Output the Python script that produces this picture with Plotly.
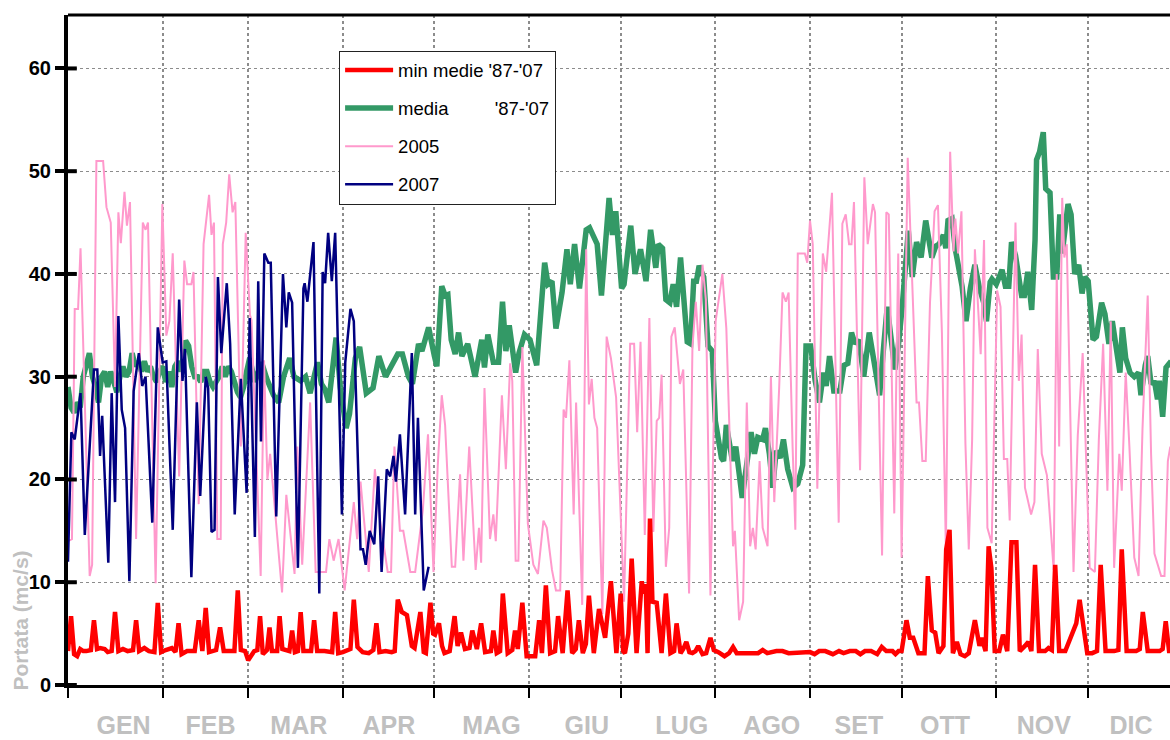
import plotly.graph_objects as go

# ---------------- data (day of year, value in mc/s) ----------------
month_names = ["GEN", "FEB", "MAR", "APR", "MAG", "GIU", "LUG", "AGO", "SET", "OTT", "NOV", "DIC"]
month_starts = [0, 31, 59, 90, 120, 151, 181, 212, 243, 273, 304, 334]
month_label_days = [18.2, 46.7, 75.6, 105.1, 138.7, 169.9, 201.0, 230.5, 259.0, 287.2, 319.6, 348.1]
y_ticks = [0, 10, 20, 30, 40, 50, 60]

min_days = [0, 1, 2, 3, 4, 5, 6, 7.5, 8.5, 9.5, 10.5, 12, 13, 14.3, 15.4, 16.5, 18, 19.5, 21.3, 22.3, 23.3, 25, 26.5,
            28.3, 29.4, 30.5, 32, 34, 35.2, 36.2, 37.2, 39, 41.5, 42.8, 44, 45.1, 46.2, 48.5, 49.8, 51, 54.5, 55.6,
            56.6, 58, 59, 60, 61, 62, 62.9, 63.8, 65.2, 66, 66.8, 68.5, 69.3, 70.2, 72.5, 73.4, 74.3, 75.3, 76.2,
            77.1, 79.6, 80.6, 81.6, 84, 86.5, 87.5, 88.5, 90, 92.5, 93.6, 94.8, 96.5, 98.5, 100, 101, 102, 104, 106,
            107, 108, 109.3, 111, 112.6, 113.5, 115.4, 116.5, 117.2, 118.7, 119.6, 120.2, 121.5, 122.5, 123.3, 125,
            126.6, 127.6, 128.7, 130, 131.5, 132.4, 133.9, 135.3, 136.6, 138.5, 139.3, 140.4, 141.5, 142.4, 144,
            145.5, 146.4, 147.3, 148.8, 150.2, 153, 154.3, 155.2, 156.5, 157.9, 159.5, 160.5, 162, 163.6, 165.1,
            166.3, 167.3, 168.6, 169.6, 170.6, 172.2, 173.9, 175.9, 177.8, 179.6, 181, 181.8, 182.4, 183.5, 184.6,
            186.2, 187.9, 188.5, 189.2, 189.8, 190.6, 191.4, 192.8, 194.4, 195.8, 197.3, 198.5, 199.3, 200.6, 201.5,
            202.5, 203.5, 204.5, 205.5, 206.4, 207.8, 209, 210.4, 211.5, 213, 215, 216.5, 217.8, 219, 221, 226,
            227.5, 229, 232, 234, 236, 238, 240, 243, 244.5, 246, 248, 250.5, 252.5, 254, 256, 258, 259.5, 261, 263,
            265, 266.5, 268, 270, 271, 272, 273, 274.6, 275.7, 276.8, 278.5, 280.5, 281.6, 282.9, 284, 285.1, 286.7,
            287.6, 288.7, 289.8, 291.1, 292.3, 293.7, 295, 297, 298.5, 299.2, 300.5, 301.5, 302.4, 303.5, 305, 306.2,
            307.6, 309, 310.6, 311.7, 313.4, 314.5, 315.5, 316.7, 318, 320, 321.1, 322.2, 323.3, 324.6, 326.6, 329,
            330.2, 331.3, 332.6, 333.8, 335.4, 337, 338.2, 339.8, 342.6, 344, 345.1, 346.7, 349.8, 351, 352, 353.6,
            357.5, 358.5, 359.5, 360.6, 362]
min_vals = [3.3, 6.7, 3.0, 2.8, 3.5, 3.3, 3.3, 3.4, 6.3, 3.5, 3.6, 3.5, 3.2, 3.3, 7.1, 3.3, 3.5, 3.3, 3.4, 6.3, 3.3, 3.6,
            3.3, 3.2, 8.0, 3.2, 3.4, 3.6, 3.2, 6.0, 3.0, 3.3, 3.3, 6.3, 3.3, 7.5, 3.2, 3.4, 5.6, 3.3, 3.3, 9.2, 3.4,
            3.3, 2.4, 2.8, 3.3, 3.4, 6.7, 3.0, 3.4, 5.6, 3.3, 3.3, 6.7, 3.5, 3.3, 5.3, 3.2, 3.3, 7.1, 3.3, 3.3, 6.3,
            3.3, 3.3, 3.2, 7.1, 3.1, 3.2, 3.5, 8.3, 3.7, 3.2, 3.1, 3.4, 6.0, 3.2, 3.3, 3.2, 3.3, 8.3, 7.1, 6.8, 3.8,
            3.6, 7.1, 3.2, 3.1, 8.0, 5.0, 4.9, 6.0, 3.8, 3.1, 3.3, 6.7, 3.8, 5.1, 3.5, 3.6, 5.3, 3.5, 6.0, 3.2, 3.3,
            5.3, 3.1, 3.3, 8.9, 3.1, 3.4, 5.3, 3.5, 8.0, 2.8, 2.8, 6.3, 3.1, 9.7, 3.1, 3.3, 6.7, 3.1, 9.2, 3.1, 3.5,
            6.3, 3.1, 4.0, 8.7, 3.1, 7.4, 4.6, 10.1, 3.1, 8.9, 3.3, 3.1, 5.0, 12.3, 3.1, 10.1, 8.9, 9.8, 3.1, 16.2,
            8.1, 8.0, 3.1, 8.9, 3.1, 3.3, 6.0, 3.1, 3.5, 4.2, 3.2, 3.1, 3.3, 3.8, 3.0, 3.1, 4.6, 3.4, 3.2, 2.8, 3.1,
            3.7, 3.1, 3.1, 3.1, 3.4, 3.1, 3.3, 3.3, 3.1, 3.1, 3.2, 3.2, 3.0, 3.3, 3.3, 3.0, 3.3, 3.1, 3.3, 3.3, 3.0,
            3.3, 3.3, 3.0, 3.7, 3.3, 3.3, 3.0, 3.3, 3.3, 6.3, 4.6, 4.6, 3.1, 3.1, 10.6, 5.3, 5.1, 3.1, 3.8, 13.2,
            15.1, 3.1, 4.2, 3.0, 2.8, 3.1, 6.3, 3.8, 4.6, 3.3, 13.5, 11.4, 3.3, 3.3, 4.9, 3.3, 13.9, 13.9, 3.3, 3.8,
            4.2, 3.3, 11.7, 3.3, 3.3, 3.6, 3.4, 11.7, 3.3, 3.3, 5.3, 6.0, 8.3, 5.3, 3.1, 3.1, 3.3, 11.7, 3.3, 3.3,
            3.4, 13.2, 3.3, 3.3, 3.5, 7.1, 3.3, 3.3, 3.5, 6.2, 3.3, 3.3]

media_days = [0, 1, 2, 3, 4, 5, 7, 8, 9, 10, 11, 12, 13, 14, 15, 16, 17, 18, 19, 20, 21, 22, 23, 24, 25, 26, 27, 28,
              29, 30, 31, 32, 33, 34, 35, 36, 37, 38.5, 39.5, 40.5, 41.5, 42.5, 43.5, 44.5, 45.5, 46.5, 47.5, 48.5,
              49.5, 50.5, 51.5, 52.5, 53.5, 54.5, 55.5, 56.5, 57.5, 58.5, 59.5, 61.2, 63.4, 65.1, 67.3, 69.0, 70.6,
              72.6, 74.0, 76.2, 77.8, 79.3, 81.7, 83.0, 84.1, 85.4, 87.8, 89.2, 91.1, 92.2, 94.1, 95.5, 97.7, 99.9,
              101.8, 104.0, 105.8, 108.0, 109.5, 111.5, 112.8, 114.8, 115.9, 118.1, 120, 120.8, 122.4, 123.5, 124.4,
              125.5, 126.8, 127.9, 129, 130.9, 133.3, 135.5, 136.4, 137.5, 139.3, 141, 142.3, 143.4, 144.5, 146.6,
              147.7, 149.5, 151.3, 153.5, 156.1, 157.2, 158.5, 159.8, 161.8, 163.4, 164.5, 165.9, 167.5, 169.7,
              170.8, 173.3, 174.7, 176.1, 177.2, 178.3, 179.4, 181.3, 182.1, 184.3, 185.7, 187.5, 189.3, 190.8,
              192.5, 193.3, 194.7, 195.8, 197.1, 198.2, 199.3, 200.6, 202.8, 203.9, 204.9, 205.8, 206.7, 208.2,
              209.6, 211, 212, 214, 214.7, 215.6, 217.6, 218.7, 220.8, 223.7, 224.8, 225.9, 227.5, 228.4, 229.7,
              230.8, 231.9, 233.2, 234.3, 235.7, 237.4, 239, 240.6, 241.7, 243.2, 244.7, 246.1, 247.4, 248.3, 249.4,
              250.8, 252.8, 254.1, 255.4, 256.6, 257.7, 258.8, 259.4, 260.6, 262.4, 263.6, 264.7, 265.8, 267.2,
              268.3, 269.4, 270.8, 271.9, 273.2, 275.2, 276.5, 277.9, 279.4, 280.9, 282.9, 284.2, 285.3, 286.7,
              287.5, 288.2, 289.5, 290.6, 291.7, 292.8, 294.1, 295.5, 297, 298.5, 299.9, 300.8, 302, 302.6, 304,
              305.9, 307, 308.1, 309, 310.3, 312.3, 313.2, 314.3, 315.6, 316.7, 317.2, 318.2, 319.4, 320.2, 321.6,
              322.7, 323.8, 324.8, 325.6, 327.5, 328.5, 329.7, 331, 332.1, 333, 334.1, 335.7, 336.8, 338.5, 339.6,
              340.9, 342, 343.4, 344.5, 345.3, 346.4, 347.8, 349.2, 350.6, 351.4, 352.8, 353.6, 354.7, 355.8, 356.8,
              357.4, 358.5, 359.6, 360.7, 362]
media_vals = [29, 27, 26.5, 27.5, 27, 30, 32.3, 30, 29, 27.5, 30, 30.5, 29, 30.5, 29.5, 28.5, 30, 31, 30, 30.5, 32.3,
              31, 31.5, 30.5, 31.5, 30.5, 31, 30, 29.5, 30.5, 31, 29.5, 30.5, 29, 31, 31.5, 30.5, 33.5, 33, 31, 30,
              30, 29.5, 30.5, 30.5, 29.5, 29, 29.5, 30, 31, 30, 31, 30.5, 29.5, 28.5, 28, 29, 30.5, 31.8, 29.5, 31.4,
              29.8, 28.2, 27.5, 30, 31.8, 30, 29.6, 30, 28.4, 31.4, 29.3, 28.8, 27.5, 33.8, 28.9, 25, 26.4, 31.8,
              32.9, 28.4, 28.9, 32, 30, 31.1, 32.2, 32.2, 30, 29.3, 33.2, 32.5, 34.8, 32, 31, 38.8, 37.9, 38, 33.6,
              32.2, 34.3, 32, 33.2, 30, 33.6, 30.9, 34.1, 31.4, 31.4, 37.3, 32.5, 35, 30.4, 32.3, 34.1, 33.6, 31.1,
              41.1, 39, 39.3, 34.7, 38.2, 42.4, 39, 42.9, 38.6, 44.3, 44.5, 42.9, 37.9, 44, 47.4, 43.8, 46.1, 38.6,
              39, 44.7, 40, 42.4, 39.3, 44.3, 40.6, 42.9, 42.5, 37.5, 37.2, 39, 36.8, 41.6, 33.4, 33.2, 39.3, 39.3,
              40.8, 39.7, 33, 32.5, 25.7, 22.1, 21.8, 25.3, 21.8, 23.2, 18.2, 24.6, 22.5, 24.1, 23.9, 25, 22.5, 19.2,
              22.8, 22.1, 23.9, 21, 19.2, 19.6, 21.4, 33, 33, 29.6, 27.5, 30.4, 29.1, 32, 28.6, 28.6, 31.1, 31.3, 34.3,
              33.2, 33.6, 32.7, 30, 34.3, 32.2, 30.4, 28.2, 33.2, 36.8, 34.1, 30.7, 32.9, 36.8, 44.2, 39.7, 43.1,
              41.6, 45.2, 41.6, 42.7, 42.9, 43.8, 42.5, 45.2, 45.4, 42.4, 40.4, 38.8, 35.4, 38.6, 40.9, 38.6, 37.2,
              35.4, 39.2, 39.5, 39, 40.4, 38.8, 38.8, 43.1, 41.8, 37.9, 37.9, 40.2, 36.5, 43.3, 51.1, 51.9, 53.8,
              48.3, 47.9, 39.7, 39.7, 45.8, 42, 46.8, 45.8, 40, 40.9, 38.1, 39.7, 39.3, 33.6, 33.9, 37.2, 36.1, 33.2,
              35.4, 32.2, 30.4, 34.8, 31.8, 30.4, 30, 30.4, 28.2, 31.1, 32, 29.3, 29.6, 27.8, 29.6, 26.1, 30.9, 31.3,
              31]

y2005_days = [0, 1.3, 2.2, 3.3, 4.1, 7.1, 7.9, 9.3, 11.5, 12.6, 14.0, 15.4, 16.5, 17.3, 18.5, 19.3, 20.3, 22.3, 24.5,
              25.4, 26.2, 28.7, 30.9, 32.2, 33.2, 34.3, 36.4, 38.1, 39.0, 40.4, 41.1, 42.8, 44.4, 46.2, 47.0, 47.8,
              48.9, 50.0, 50.7, 51.8, 52.8, 53.9, 54.8, 56.6, 58.2, 59.6, 60.1, 63.1, 64.2, 65.3, 66.2, 70.1, 71.5,
              74.2, 75.1, 76.7, 79.3, 81.1, 84.5, 85.6, 87.0, 88.6, 90.6, 93.6, 94.7, 95.8, 98.5, 100.5, 102.1, 104.7,
              105.8, 106.9, 108.7, 109.8, 112.1, 113.7, 116.2, 117.9, 119.7, 121.1, 122.4, 123.5, 125.7, 126.8,
              128.4, 129.5, 131.4, 133.5, 134.6, 135.3, 136.4, 138.2, 139.3, 140.1, 142.1, 143.4, 144.8, 145.5,
              146.6, 147.5, 148.8, 150.6, 152.4, 153.9, 155.7, 156.8, 158.5, 159.8, 161.2, 162.3, 163.1, 164.2,
              165.6, 166.4, 168.4, 169.7, 170.6, 171.5, 172.4, 173.3, 175, 176.4, 177.8, 179.5, 182.1, 184.1, 185.4,
              186.4, 187.5, 188.9, 190.4, 191.7, 192.8, 193.6, 194.4, 195.8, 196.9, 197.6, 198.7, 200.4, 201.5,
              203.4, 204.5, 205.6, 206.7, 207.8, 208.9, 210.4, 212.1, 214.3, 215.6, 217.8, 218.4, 219.8, 221.1,
              222.3, 223.4, 224.3, 225.2, 226.5, 227.5, 229.1, 230.2, 231.3, 232.9, 234, 235.1, 236, 237.3, 238.2,
              239, 241.3, 242.1, 243, 243.9, 245.4, 247.2, 248.3, 250.2, 252.4, 253.6, 254.7, 255.8, 256.6, 257.4,
              259.4, 260.8, 261.9, 263.6, 264.3, 266.6, 268, 268.8, 270.6, 271.9, 273, 275, 276.1, 277.9, 278.7,
              279.8, 280.9, 282.3, 283.8, 284.9, 286.2, 287.5, 288.9, 290, 290.6, 291.5, 292.6, 293.9, 295, 296.1,
              297, 298.3, 298.9, 300, 301.1, 302.5, 304.3, 305.4, 306.5, 307.6, 308.4, 310.3, 311.4, 312.3, 313.4,
              315.4, 316.5, 317.6, 318.9, 320.6, 322.8, 323.8, 324.6, 325.6, 326.3, 327.1, 329.3, 330.7, 332.3,
              334.6, 336.3, 337.6, 339, 340.4, 341.5, 342.6, 344.3, 345.1, 346.4, 347.6, 349.2, 350.6, 351.9, 353.6,
              354.7, 355.8, 358, 359.1, 360.2, 361]
y2005_vals = [14, 14.2, 36.6, 36.6, 42.5, 10.6, 11.7, 51, 51, 46.5, 45, 29, 46, 43, 48, 44.7, 47, 14.2, 45, 44.3, 45,
              9.9, 46.8, 34, 35.4, 42, 20.3, 41.3, 39, 39, 40.2, 17.6, 42.9, 47.7, 43.8, 45, 14.2, 14.2, 42.9, 45,
              49.7, 46, 47, 23.2, 44, 36, 35.5, 10.6, 31.6, 20, 22.5, 9, 18.5, 10.8, 23.2, 11.7, 27.5, 11, 11, 14.2,
              12.1, 14.2, 9.2, 17.8, 14.2, 19.8, 11, 21, 16.2, 11, 11, 23.2, 15, 15, 11, 11, 17, 24.4, 11, 21.4, 28.2,
              25.3, 11.5, 11.5, 20.5, 12.1, 23.2, 11.2, 15.3, 11.9, 28.9, 14.2, 16.6, 14, 28.2, 21, 31.3, 29.6, 12.1,
              12.1, 32.9, 15.7, 11.7, 10.8, 16, 15.3, 11.2, 9.2, 9.2, 26.8, 26, 31.6, 16.6, 27.5, 7.8, 42.4, 27.3,
              29.8, 26, 25, 6.9, 33.9, 31.8, 28, 8.1, 33.2, 33.2, 24.6, 33.4, 14.6, 35.7, 14.9, 25.7, 26, 30.2, 11.5,
              15.3, 33.9, 34.8, 29.3, 30.7, 8.9, 32.9, 37.3, 32.5, 40.9, 37.5, 8.7, 35.4, 40, 34.7, 13.5, 15, 6.3,
              8.1, 27.5, 13.5, 15.3, 13.2, 21.8, 15.3, 13.5, 30, 17.8, 28.9, 38.2, 37.3, 38.2, 23.2, 15.1, 42, 42,
              41.1, 45.2, 42.9, 19.1, 42, 40.2, 47.9, 15.8, 44.9, 45.8, 42.9, 42.9, 47, 20.9, 49.4, 42.9, 46.8, 46,
              12.6, 46, 45.8, 16.7, 42, 12.4, 51.3, 42.2, 27.5, 27.5, 21.8, 21.8, 37.2, 46.1, 46.7, 34.3, 13.2, 51.9,
              42.2, 45.4, 42, 46.1, 23.5, 13.2, 23.9, 42.4, 35, 32.2, 43.3, 15.3, 13.8, 38.4, 36.8, 22, 22, 16, 45,
              29.6, 34.1, 19.2, 16.6, 17.8, 32.7, 22.5, 20.4, 11.2, 40, 23.2, 47.4, 41.6, 42.9, 11, 24.3, 32.3, 11.4,
              11, 23.9, 33.2, 18.9, 35.4, 11.4, 22.5, 18.9, 30.4, 23.2, 12.4, 10.6, 25, 37.9, 22.5, 12.8, 10.6, 10.6,
              21.8, 23.2]

y2007_days = [0, 1.1, 2.2, 4.1, 5.5, 8.5, 9.6, 10.5, 11.2, 13.2, 14.3, 15.4, 16.5, 17.6, 18.7, 20.1, 21.5, 23.2, 24.3,
              25.4, 27.6, 29.4, 31.0, 32.2, 34.3, 36.4, 37.5, 38.3, 40.4, 42.2, 43.3, 45.1, 45.9, 47.0, 48.0, 49.1,
              50.2, 52.0, 53.1, 54.6, 56.6, 58.5, 59.5, 61.2, 62.3, 63.2, 64.3, 65.6, 66.4, 68.2, 70.4, 71.5, 72.3,
              73.4, 75.3, 77.1, 77.5, 78.4, 80.4, 82.3, 83.4, 84.2, 85.2, 86.4, 87.5, 89.7, 90.8, 92.5, 93.6, 95.8,
              96.6, 97.5, 98.8, 100.3, 101.6, 102.7, 104.4, 105.5, 106.6, 107.4, 108.7, 110.4, 112.6, 113.7, 114.6,
              116.5, 118.1]
y2007_vals = [12, 24.6, 23.9, 28.4, 14.6, 30.7, 30.7, 22.3, 26.2, 11.9, 28.4, 17.8, 35.9, 26.8, 25, 10.1, 28.6, 32.3,
              29.1, 30, 15.8, 34.8, 31.4, 31.5, 15.1, 37.5, 29.6, 32.7, 10.5, 27.5, 18.4, 30, 28.9, 14.9, 15.1, 39.7,
              32.3, 39.1, 33.2, 16.6, 29.8, 18.7, 35.7, 14.4, 39.3, 23.7, 42, 41.1, 41.1, 16.4, 40, 34.8, 38.2, 37.2,
              11.4, 38.6, 39.1, 37.3, 43.1, 8.9, 40.2, 39.1, 44, 39.3, 44, 16.6, 31.4, 36.6, 35.4, 13.2, 13.2, 11.7,
              15, 13.7, 20.3, 11, 21, 20.3, 22.3, 19.8, 24.4, 16.6, 32.3, 16.6, 26, 9.2, 11.5]

# ---------------- figure ----------------
FONT = "Arial, 'Liberation Sans', sans-serif"
fig = go.Figure()

fig.add_trace(go.Scatter(x=media_days, y=media_vals, mode="lines",
                         name="media\u00a0\u00a0\u00a0\u00a0\u00a0\u00a0\u00a0\u00a0\u00a0'87-'07",
                         line=dict(color="#339966", width=5.5), legendrank=2, legendgroup="b"))
fig.add_trace(go.Scatter(x=y2005_days, y=y2005_vals, mode="lines", name="2005",
                         line=dict(color="#FF99CC", width=2), legendrank=3, legendgroup="c"))
fig.add_trace(go.Scatter(x=y2007_days, y=y2007_vals, mode="lines", name="2007",
                         line=dict(color="#000080", width=2.5), legendrank=4, legendgroup="d"))
fig.add_trace(go.Scatter(x=min_days, y=min_vals, mode="lines", name="min medie '87-'07",
                         line=dict(color="#FF0000", width=4.5), legendrank=1, legendgroup="a"))

shapes = [dict(type="line", xref="paper", yref="paper", x0=0, x1=1, y0=1, y1=1,
               line=dict(color="black", width=3))]
for v in y_ticks:
    shapes.append(dict(type="line", xref="paper", yref="y", x0=0, x1=0.008, y0=v, y1=v,
                       line=dict(color="black", width=4)))

fig.update_layout(
    width=1170, height=740,
    margin=dict(l=68, r=0, t=15, b=55, autoexpand=False),
    paper_bgcolor="white", plot_bgcolor="white",
    font=dict(family=FONT, color="black"),
    showlegend=True,
    legend=dict(x=0.246, y=0.947, xanchor="left", yanchor="top",
                bgcolor="white", bordercolor="#222", borderwidth=1,
                font=dict(size=18.5, family=FONT, color="black"),
                tracegroupgap=11, traceorder="grouped", itemwidth=48),
    shapes=shapes,
    xaxis=dict(range=[0, 360.9], showline=True, linecolor="black", linewidth=2.5, automargin=False,
               tickmode="array", tickvals=month_label_days, ticktext=month_names,
               ticks="", showgrid=False, zeroline=False,
               tickfont=dict(size=25, family=FONT, color="#C0C0C0", weight="bold"),
               ticklabelstandoff=16,
               minor=dict(tickmode="array", tickvals=month_starts, ticks="outside", ticklen=10,
                          tickwidth=1.5, tickcolor="black", showgrid=True,
                          gridcolor="#8c8c8c", griddash="dot", gridwidth=1.5)),
    yaxis=dict(range=[0, 65.2], showline=True, linecolor="black", linewidth=4, automargin=False,
               tickmode="array", tickvals=y_ticks, ticks="outside", ticklen=9, tickwidth=4,
               tickcolor="black", showgrid=True, gridcolor="#8c8c8c", griddash="dot", gridwidth=1,
               zeroline=False,
               tickfont=dict(size=20, family=FONT, color="black", weight="bold")),
    annotations=[dict(text="<b>Portata (mc/s)</b>", xref="paper", yref="paper", x=0, y=0.0963,
                      xshift=-48, xanchor="center", yanchor="middle", textangle=-90, showarrow=False,
                      font=dict(size=21, family=FONT, color="#C0C0C0"))],
)

fig.write_html("out.html", config={"displayModeBar": False},
               post_script="document.body.style.margin='0px';document.body.style.overflow='hidden';")
